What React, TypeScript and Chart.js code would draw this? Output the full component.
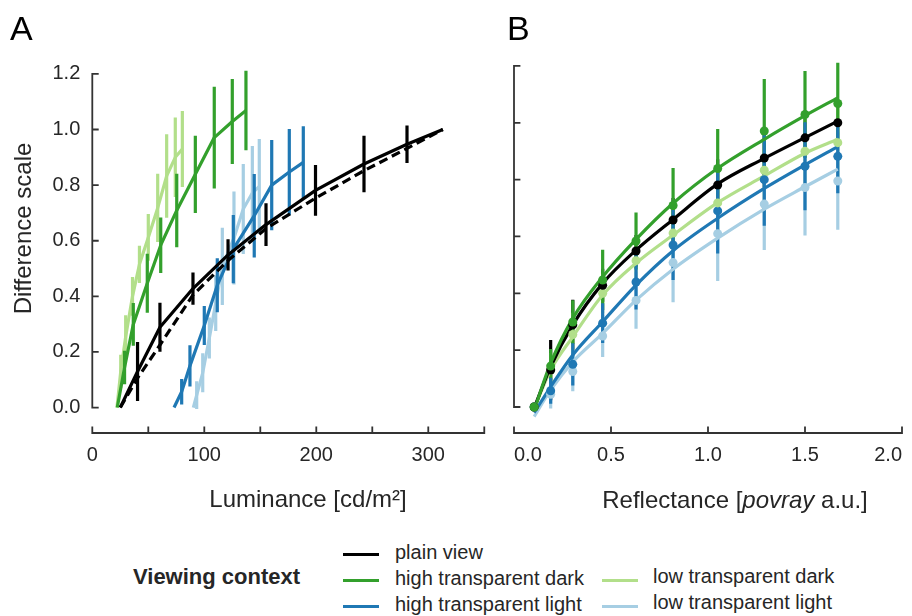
import React, { useEffect, useRef } from 'react';
import { Chart, registerables } from 'chart.js';
Chart.register(...registerables);

const FONT = '"Liberation Sans", Arial, Helvetica, sans-serif';
const INK = '#262626';

// ---------- data ----------
const reflectance = [0.104, 0.189, 0.303, 0.457, 0.629, 0.82, 1.05, 1.29, 1.5, 1.669];

const lumPlain = [25, 40.4, 60.4, 89.9, 121.2, 155.1, 199.3, 242.6, 281, 313];
const valPlain = [0, 0.13, 0.289, 0.428, 0.549, 0.658, 0.781, 0.876, 0.947, 1.0];
const errPlain = [0, 0.106, 0.088, 0.058, 0.056, 0.077, 0.091, 0.102, 0.067, 0];
const valPlainDashed = [0, 0.106, 0.225, 0.405, 0.529, 0.644, 0.753, 0.852, 0.932, 1.0];

const lumHTD = [22.3, 28.8, 36.6, 49.1, 61.1, 75.4, 92, 108.9, 125, 137.2];
const valHTD = [0, 0.144, 0.299, 0.447, 0.584, 0.709, 0.839, 0.971, 1.029, 1.068];
const errHTD = [0, 0.06, 0.077, 0.106, 0.1, 0.132, 0.139, 0.183, 0.153, 0.143];

const lumLTD = [22, 25.4, 29.8, 35.9, 42.1, 50, 58.4, 66.4, 74.1, 80.4];
const valLTD = [0, 0.13, 0.255, 0.4, 0.515, 0.612, 0.718, 0.833, 0.9, 0.93];
const errLTD = [0, 0.06, 0.077, 0.07, 0.067, 0.084, 0.123, 0.15, 0.143, 0.137];

const lumHTL = [73, 79.8, 87.2, 100, 111.6, 125.9, 144.6, 160.2, 175.9, 188.4];
const valHTL = [0, 0.057, 0.15, 0.295, 0.44, 0.57, 0.69, 0.8, 0.847, 0.882];
const errHTL = [0, 0.046, 0.074, 0.07, 0.097, 0.123, 0.15, 0.162, 0.155, 0.13];

const lumLTL = [90.2, 93.2, 98.6, 104.5, 110.2, 116.1, 126.5, 134.8, 142.9, 149.1];
const valLTL = [0, 0.045, 0.125, 0.25, 0.375, 0.508, 0.61, 0.714, 0.772, 0.795];
const errLTL = [0, 0.05, 0.07, 0.074, 0.1, 0.139, 0.167, 0.162, 0.169, 0.171];

// fitted curves in panel B (read at the reflectance levels)
const fitPlain = [-0.004, 0.142, 0.289, 0.435, 0.552, 0.66, 0.785, 0.875, 0.948, 1.006];
const fitHTD = [-0.011, 0.154, 0.312, 0.458, 0.59, 0.717, 0.84, 0.942, 1.025, 1.088];
const fitLTD = [-0.005, 0.13, 0.247, 0.394, 0.506, 0.605, 0.719, 0.813, 0.893, 0.942];
const fitHTL = [-0.02, 0.071, 0.183, 0.3, 0.429, 0.55, 0.664, 0.769, 0.852, 0.916];
const fitLTL = [-0.034, 0.06, 0.159, 0.259, 0.376, 0.485, 0.594, 0.696, 0.775, 0.837];

const yTicks = [0, 0.2, 0.4, 0.6, 0.8, 1.0, 1.2];
const lumTicks = [0, 50, 100, 150, 200, 250, 300, 350];
const lumTickLabels = ['0', '', '100', '', '200', '', '300', ''];
const reflTicks = [0, 0.5, 1.0, 1.5, 2.0];
const reflTickLabels = ['0.0', '0.5', '1.0', '1.5', '2.0'];

const legendItems = [
  { label: 'plain view', color: '#000000', col: 0, row: 0 },
  { label: 'high transparent dark', color: '#33a02c', col: 0, row: 1 },
  { label: 'high transparent light', color: '#1f78b4', col: 0, row: 2 },
  { label: 'low transparent dark', color: '#b2df8a', col: 1, row: 1 },
  { label: 'low transparent light', color: '#a6cee3', col: 1, row: 2 },
];

const C_PLAIN = '#000000';
const C_HTD = '#33a02c';
const C_LTD = '#b2df8a';
const C_HTL = '#1f78b4';
const C_LTL = '#a6cee3';

// ---------- helpers ----------
const pts = (xs: number[], ys: number[]) => xs.map((x, i) => ({ x, y: ys[i] }));
const bars = (xs: number[], ys: number[], es: number[]) => {
  const out: { x: number; y: number }[] = [];
  xs.forEach((x, i) => {
    if (es[i] > 0) {
      out.push({ x, y: ys[i] - es[i] }, { x, y: ys[i] + es[i] }, { x, y: NaN });
    }
  });
  return out;
};
const lineDs = (data: any[], color: string, extra: any = {}) => ({
  data,
  showLine: true,
  borderColor: color,
  backgroundColor: color,
  borderWidth: 3.2,
  pointRadius: 0,
  pointHoverRadius: 0,
  fill: false,
  tension: 0,
  spanGaps: false,
  clip: false,
  borderCapStyle: 'butt',
  borderJoinStyle: 'round',
  ...extra,
});
const dotDs = (data: any[], color: string) => ({
  data,
  showLine: false,
  pointRadius: 4.5,
  pointHoverRadius: 4.5,
  pointBorderWidth: 0,
  pointBackgroundColor: color,
  backgroundColor: color,
  borderColor: color,
  clip: false,
});

const spinePlugin = {
  id: 'spines',
  beforeDatasetsDraw(chart: any, _args: any, opts: any) {
    const { ctx, chartArea } = chart;
    const xs = chart.scales.x;
    const ys = chart.scales.y;
    const xT: number[] = opts.xTicks;
    const yT: number[] = opts.yTicks;
    const L = 5.5;
    ctx.save();
    ctx.strokeStyle = '#333333';
    ctx.lineWidth = 1.8;
    ctx.lineCap = 'square';
    ctx.beginPath();
    const x0 = chartArea.left;
    ctx.moveTo(x0, ys.getPixelForValue(yT[0]));
    ctx.lineTo(x0, ys.getPixelForValue(yT[yT.length - 1]));
    yT.forEach((v) => {
      const p = ys.getPixelForValue(v);
      ctx.moveTo(x0, p);
      ctx.lineTo(x0 + L, p);
    });
    const yb = chartArea.bottom;
    ctx.moveTo(xs.getPixelForValue(xT[0]), yb);
    ctx.lineTo(xs.getPixelForValue(xT[xT.length - 1]), yb);
    xT.forEach((v) => {
      const p = xs.getPixelForValue(v);
      ctx.moveTo(p, yb);
      ctx.lineTo(p, yb - L);
    });
    ctx.stroke();
    ctx.restore();
  },
};

const Y_MIN = -0.0915;
const Y_MAX = 1.3795;
const TOP_PAD = 14.94;
const XAXIS_H = 97;
const CANVAS_H = 530;

const tickFont = { family: FONT, size: 20 };
const titleFont = { family: FONT, size: 24 };

const xTickOpts = (labels: string[], extra: any = {}) => ({
  callback: (_v: any, i: number) => labels[i],
  font: tickFont,
  color: INK,
  padding: 10,
  maxRotation: 0,
  autoSkip: false,
  ...extra,
});

function buildA() {
  const ds = [
    lineDs(bars(lumLTL, valLTL, errLTL), C_LTL),
    lineDs(pts(lumLTL, valLTL), C_LTL),
    lineDs(bars(lumHTL, valHTL, errHTL), C_HTL),
    lineDs(pts(lumHTL, valHTL), C_HTL),
    lineDs(bars(lumLTD, valLTD, errLTD), C_LTD),
    lineDs(pts(lumLTD, valLTD), C_LTD),
    lineDs(bars(lumHTD, valHTD, errHTD), C_HTD),
    lineDs(pts(lumHTD, valHTD), C_HTD),
    lineDs(pts(lumPlain, valPlainDashed), C_PLAIN, { borderDash: [9, 5] }),
    lineDs(bars(lumPlain, valPlain, errPlain), C_PLAIN),
    lineDs(pts(lumPlain, valPlain), C_PLAIN),
  ].reverse();
  return {
    type: 'scatter',
    data: { datasets: ds },
    options: {
      responsive: false,
      animation: false,
      events: [],
      layout: { padding: { left: 0, top: TOP_PAD, right: 540 - 523.7, bottom: 0 } },
      plugins: {
        legend: { display: false },
        tooltip: { enabled: false },
        spines: { xTicks: lumTicks, yTicks },
      },
      scales: {
        x: {
          type: 'linear',
          min: 0,
          max: 385.2,
          afterBuildTicks: (s: any) => {
            s.ticks = lumTicks.map((v) => ({ value: v }));
          },
          ticks: xTickOpts(lumTickLabels),
          grid: { display: false, drawTicks: false },
          border: { display: false },
          title: {
            display: true,
            text: 'Luminance [cd/m²]',
            font: titleFont,
            color: INK,
            padding: { top: 0, bottom: 15 },
          },
          afterFit: (s: any) => {
            s.height = XAXIS_H;
          },
        },
        y: {
          type: 'linear',
          min: Y_MIN,
          max: Y_MAX,
          afterBuildTicks: (s: any) => {
            s.ticks = yTicks.map((v) => ({ value: v }));
          },
          ticks: {
            callback: (v: any) => Number(v).toFixed(1),
            font: tickFont,
            color: INK,
            padding: 12,
          },
          grid: { display: false, drawTicks: false },
          border: { display: false },
          title: {
            display: true,
            text: 'Difference scale',
            font: titleFont,
            color: INK,
            padding: { top: 10, bottom: 0 },
          },
          afterFit: (s: any) => {
            s.width = 92.3;
          },
        },
      },
    },
    plugins: [spinePlugin],
  };
}

function buildB() {
  const mono = { cubicInterpolationMode: 'monotone' };
  const ds = [
    lineDs(bars(reflectance, valPlain, errPlain), C_PLAIN),
    lineDs(bars(reflectance, valLTD, errLTD), C_LTD),
    lineDs(bars(reflectance, valLTL, errLTL), C_LTL),
    lineDs(bars(reflectance, valHTD, errHTD), C_HTD),
    lineDs(bars(reflectance, valHTL, errHTL), C_HTL),
    lineDs(pts(reflectance, fitLTL), C_LTL, mono),
    lineDs(pts(reflectance, fitHTL), C_HTL, mono),
    lineDs(pts(reflectance, fitLTD), C_LTD, mono),
    lineDs(pts(reflectance, fitPlain), C_PLAIN, mono),
    lineDs(pts(reflectance, fitHTD), C_HTD, mono),
    dotDs(pts(reflectance, valLTL), C_LTL),
    dotDs(pts(reflectance, valHTL), C_HTL),
    dotDs(pts(reflectance, valLTD), C_LTD),
    dotDs(pts(reflectance, valPlain), C_PLAIN),
    dotDs(pts(reflectance, valHTD), C_HTD),
  ].reverse();
  return {
    type: 'scatter',
    data: { datasets: ds },
    options: {
      responsive: false,
      animation: false,
      events: [],
      layout: { padding: { left: 74, top: TOP_PAD, right: 7, bottom: 0 } },
      plugins: {
        legend: { display: false },
        tooltip: { enabled: false },
        spines: { xTicks: reflTicks, yTicks },
      },
      scales: {
        x: {
          type: 'linear',
          min: 0,
          max: 2.0,
          afterBuildTicks: (s: any) => {
            s.ticks = reflTicks.map((v) => ({ value: v }));
          },
          ticks: xTickOpts(reflTickLabels, { align: 'inner' }),
          grid: { display: false, drawTicks: false },
          border: { display: false },
          afterFit: (s: any) => {
            s.height = XAXIS_H;
          },
        },
        y: {
          type: 'linear',
          display: false,
          min: Y_MIN,
          max: Y_MAX,
        },
      },
    },
    plugins: [spinePlugin],
  };
}

function ChartCanvas({ build, left, width }: { build: () => any; left: number; width: number }) {
  const ref = useRef<HTMLCanvasElement>(null);
  useEffect(() => {
    const chart = new Chart(ref.current as HTMLCanvasElement, build());
    return () => chart.destroy();
  }, []);
  return (
    <canvas
      ref={ref}
      width={width}
      height={CANVAS_H}
      style={{ position: 'absolute', left, top: 0, width, height: CANVAS_H, display: 'block' }}
    />
  );
}

function Legend() {
  const rowY = [554, 580, 606];
  const colLineX = [343, 602];
  const colTextX = [395, 653];
  return (
    <>
      <div
        style={{
          position: 'absolute',
          left: 133,
          top: 578 - 15,
          height: 28,
          lineHeight: '28px',
          fontSize: 22,
          fontWeight: 'bold',
          color: INK,
          whiteSpace: 'nowrap',
        }}
      >
        Viewing context
      </div>
      {legendItems.map((it) => {
        const cy = rowY[it.row];
        const textShift = it.col === 1 ? -2 : 0;
        return (
          <React.Fragment key={it.label}>
            <div
              style={{
                position: 'absolute',
                left: colLineX[it.col],
                top: cy - 1.5,
                width: 36,
                height: 3,
                background: it.color,
              }}
            />
            <div
              style={{
                position: 'absolute',
                left: colTextX[it.col],
                top: cy - 14.7 + textShift,
                height: 26,
                lineHeight: '26px',
                fontSize: 20,
                color: INK,
                whiteSpace: 'nowrap',
              }}
            >
              {it.label}
            </div>
          </React.Fragment>
        );
      })}
    </>
  );
}

export default function App() {
  Chart.defaults.font.family = FONT;
  return (
    <div
      style={{
        position: 'fixed',
        left: 0,
        top: 0,
        width: 912,
        height: 616,
        overflow: 'hidden',
        background: '#ffffff',
        fontFamily: FONT,
      }}
    >
      <ChartCanvas build={buildA} left={0} width={540} />
      <ChartCanvas build={buildB} left={440} width={472} />
      <div
        style={{
          position: 'absolute',
          left: 535,
          top: 486.2,
          width: 400,
          height: 28,
          lineHeight: '28px',
          fontSize: 24,
          textAlign: 'center',
          color: INK,
          whiteSpace: 'nowrap',
        }}
      >
        Reflectance [<i>povray</i> a.u.]
      </div>
      <div style={{ position: 'absolute', left: 10, top: 8, fontSize: 34, lineHeight: '40px', color: '#000' }}>A</div>
      <div style={{ position: 'absolute', left: 507, top: 8, fontSize: 34, lineHeight: '40px', color: '#000' }}>B</div>
      <Legend />
    </div>
  );
}
